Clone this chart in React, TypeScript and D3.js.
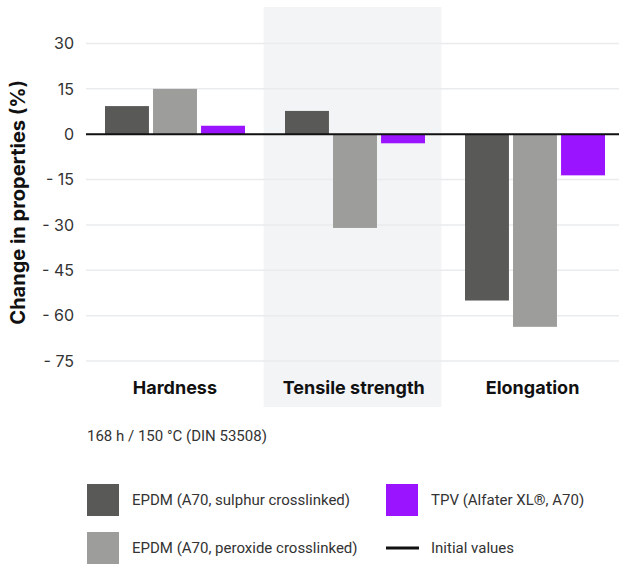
import React from "react";
import * as d3 from "d3";

const categories = ["Hardness", "Tensile strength", "Elongation"];
const seriesNames = [
  "EPDM (A70, sulphur crosslinked)",
  "EPDM (A70, peroxide crosslinked)",
  "TPV (Alfater XL®, A70)",
];
const sulphurValues = [9.3, 7.7, -55];
const peroxideValues = [15, -31, -63.7];
const tpvValues = [2.8, -3, -13.6];
const yTicks = [30, 15, 0, -15, -30, -45, -60, -75];
const colors = ["#595957", "#9d9d9b", "#9b14ff"];
const note = "168 h / 150 °C (DIN 53508)";

const W = 619;
const H = 566;
const left = 86;
const right = 619;
const font = "Inter, Roboto, 'Noto Sans', sans-serif";
const font2 = "Roboto, 'Noto Sans', sans-serif";

export default function App() {
  const x = d3.scaleBand<string>().domain(categories).range([left, right]).paddingInner(0).paddingOuter(0);
  const xb = d3.scaleBand<string>().domain(categories).range([85, 625]).paddingInner(0).paddingOuter(0);
  const y = d3.scaleLinear().domain([-75, 30]).range([361, 43.5]);
  const series = [sulphurValues, peroxideValues, tpvValues];
  const x1 = d3
    .scaleBand<number>()
    .domain([0, 1, 2])
    .range([20, xb.bandwidth() - 20])
    .paddingInner(0.085)
    .paddingOuter(0);

  return (
    <svg width={W} height={H} style={{ position: "absolute", left: 0, top: 0 }} fontFamily={font}>
      <rect width={W} height={H} fill="#fff" />
      <rect x={x("Tensile strength")} y={7} width={x.bandwidth()} height={400} fill="#f3f4f6" />
      {yTicks.map((t) => (
        <g key={t}>
          <line x1={left} x2={right} y1={y(t)} y2={y(t)} stroke="#e9ebed" strokeWidth={1.5} />
          <text x={74} y={y(t)} dy="0.36em" textAnchor="end" fontSize={16} fill="#333">
            {t < 0 ? `- ${Math.abs(t)}` : t}
          </text>
        </g>
      ))}
      {categories.map((c, ci) => (
        <g key={c}>
          {series.map((vals, si) => {
            const v = vals[ci];
            const y0 = y(0);
            const yv = y(v);
            return (
              <rect
                key={si}
                x={(xb(c) as number) + (x1(si) as number)}
                y={Math.min(y0, yv)}
                width={x1.bandwidth()}
                height={Math.abs(yv - y0)}
                fill={colors[si]}
              />
            );
          })}
          <text
            x={((x(c) as number) + x.bandwidth() / 2 + (xb(c) as number) + xb.bandwidth() / 2) / 2}
            y={394}
            textAnchor="middle"
            fontSize={18}
            fontWeight={700}
            fill="#111"
          >
            {c}
          </text>
        </g>
      ))}
      <line x1={left} x2={right} y1={y(0)} y2={y(0)} stroke="#111" strokeWidth={2} />
      <text
        transform={`translate(25,${(y(30) + y(-75)) / 2}) rotate(-90)`}
        textAnchor="middle"
        fontSize={20}
        fontWeight={700}
        fill="#111"
      >
        Change in properties (%)
      </text>
      <text x={87} y={441} fontSize={15} fill="#333" fontFamily={font2}>
        {note}
      </text>
      {[
        { name: seriesNames[0], color: colors[0], x: 87, y: 484 },
        { name: seriesNames[1], color: colors[1], x: 87, y: 532 },
        { name: seriesNames[2], color: colors[2], x: 386, y: 484 },
      ].map((l) => (
        <g key={l.name}>
          <rect x={l.x} y={l.y} width={32} height={32} fill={l.color} />
          <text x={l.x + 45} y={l.y + 16} dy="0.35em" fontSize={15} fill="#333" fontFamily={font2}>
            {l.name}
          </text>
        </g>
      ))}
      <line x1={386} x2={419} y1={548} y2={548} stroke="#111" strokeWidth={3} />
      <text x={431} y={548} dy="0.35em" fontSize={15} fill="#333" fontFamily={font2}>
        Initial values
      </text>
    </svg>
  );
}
